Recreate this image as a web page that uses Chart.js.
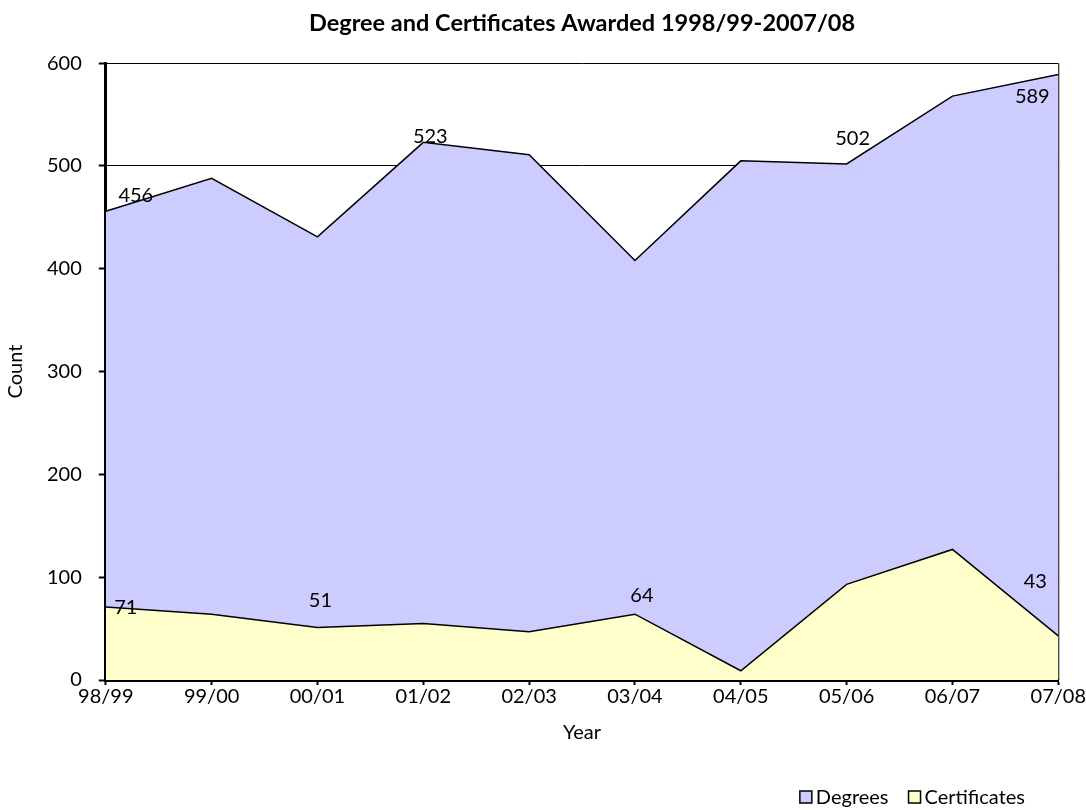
<!DOCTYPE html>
<html>
<head>
<meta charset="utf-8">
<script src="https://cdn.jsdelivr.net/npm/chart.js@4/dist/chart.umd.min.js"></script>
<style>
  html, body { margin: 0; padding: 0; background: #fff; }
  #wrap { width: 1086px; height: 810px; }
</style>
</head>
<body>
<div id="wrap"><canvas id="awardsChart"></canvas></div>
<script>
const years = ["98/99", "99/00", "00/01", "01/02", "02/03", "03/04", "04/05", "05/06", "06/07", "07/08"]
const degrees = [456, 488, 431, 523, 511, 408, 505, 502, 568, 589]
const certificates = [71, 64, 51, 55, 47, 64, 9, 93, 127, 43]
const yTicks = [0, 100, 200, 300, 400, 500, 600]

// which points carry a value label
const degreeLabelIdx = [0, 3, 7, 9]
const certLabelIdx = [0, 2, 5, 9]

const FONT = "Lato"

// label nudges in px, relative to the point
const labelNudge = [
  { 0: [30, -16], 3: [7, -6], 7: [6, -25], 9: [-26, 22] },
  { 0: [20, 1], 2: [3, -27], 5: [7, -19], 9: [-23, -54] },
]

// thin right edge of the plot, sits behind the areas
const plotFrame = {
  id: "plotFrame",
  beforeDatasetsDraw(chart) {
    const { ctx, chartArea } = chart
    ctx.save()
    ctx.strokeStyle = "#000"
    ctx.lineWidth = 1
    ctx.beginPath()
    ctx.moveTo(chartArea.right + 0.5, chartArea.top)
    ctx.lineTo(chartArea.right + 0.5, chartArea.bottom)
    ctx.stroke()
    ctx.restore()
  },
}

const valueLabels = {
  id: "valueLabels",
  afterDatasetsDraw(chart) {
    const ctx = chart.ctx
    ctx.save()
    ctx.font = "20px " + FONT
    ctx.fillStyle = "#000"
    ctx.textAlign = "center"
    ctx.textBaseline = "middle"
    const sets = [degreeLabelIdx, certLabelIdx]
    sets.forEach((idxs, di) => {
      const meta = chart.getDatasetMeta(di)
      idxs.forEach((i) => {
        const pt = meta.data[i]
        const n = labelNudge[di][i] || [0, -12]
        ctx.fillText(String(chart.data.datasets[di].data[i]), pt.x + n[0], pt.y + n[1])
      })
    })
    ctx.restore()
  },
}

// small square legend in the bottom right corner
const boxLegend = {
  id: "boxLegend",
  afterDraw(chart) {
    const ctx = chart.ctx
    const items = chart.data.datasets
    ctx.save()
    ctx.font = "20px " + FONT
    ctx.textBaseline = "middle"
    const box = 12, gap = 4, itemGap = 20
    const y = 797
    let total = 0
    items.forEach((d, i) => {
      total += box + gap + ctx.measureText(d.label).width
      if (i < items.length - 1) total += itemGap
    })
    let x = chart.width - 61 - total
    items.forEach((d) => {
      ctx.fillStyle = d.backgroundColor
      ctx.fillRect(x, y - box / 2, box, box)
      ctx.strokeStyle = "#000"
      ctx.lineWidth = 1.5
      ctx.strokeRect(x, y - box / 2, box, box)
      x += box + gap
      ctx.fillStyle = "#000"
      ctx.fillText(d.label, x, y + 1)
      x += ctx.measureText(d.label).width + itemGap
    })
    ctx.restore()
  },
}

document.addEventListener("DOMContentLoaded", () => {
  const el = document.getElementById("awardsChart")
  new Chart(el, {
    type: "line",
    data: {
      labels: years,
      datasets: [
        {
          label: "Degrees",
          data: degrees,
          backgroundColor: "#CCCCFF",
          borderColor: "#000",
          borderWidth: 1.5,
          fill: "origin",
          pointRadius: 0,
          tension: 0,
          order: 2,
        },
        {
          label: "Certificates",
          data: certificates,
          backgroundColor: "#FFFFCC",
          borderColor: "#000",
          borderWidth: 1.5,
          fill: "origin",
          pointRadius: 0,
          tension: 0,
          order: 1,
        },
      ],
    },
    options: {
      responsive: true,
      maintainAspectRatio: false,
      animation: false,
      layout: { padding: { left: 0, right: 25, top: 0, bottom: 65 } },
      plugins: {
        legend: { display: false },
        tooltip: { enabled: false },
        title: {
          display: true,
          fullSize: false,
          text: "Degree and Certificates Awarded 1998/99-2007/08",
          color: "#000",
          font: { family: FONT, size: 23.5, weight: "bold" },
          padding: { top: 9, bottom: 26 },
        },
      },
      scales: {
        x: {
          offset: false,
          grid: {
            drawOnChartArea: false,
            tickLength: 5,
            tickColor: "#000",
            tickWidth: 2,
          },
          border: { color: "#000", width: 3 },
          ticks: {
            color: "#000",
            font: { family: FONT, size: 20 },
            padding: 0,
            maxRotation: 0,
            autoSkip: false,
          },
          title: {
            display: true,
            text: "Year",
            color: "#000",
            font: { family: FONT, size: 20 },
            padding: { top: 12, bottom: 0 },
          },
        },
        y: {
          min: 0,
          max: 600,
          afterBuildTicks: (axis) => {
            axis.ticks = yTicks.map((v) => ({ value: v }))
          },
          grid: {
            color: "#000",
            lineWidth: 1,
            tickLength: 7,
            tickColor: "#000",
            tickWidth: 2,
          },
          border: { color: "#000", width: 3 },
          ticks: {
            color: "#000",
            font: { family: FONT, size: 20 },
            padding: 17,
          },
          title: {
            display: true,
            text: "Count",
            color: "#000",
            font: { family: FONT, size: 20 },
            padding: { top: 4, bottom: 2 },
          },
        },
      },
    },
    plugins: [plotFrame, valueLabels, boxLegend],
  })
})
</script>
</body>
</html>
